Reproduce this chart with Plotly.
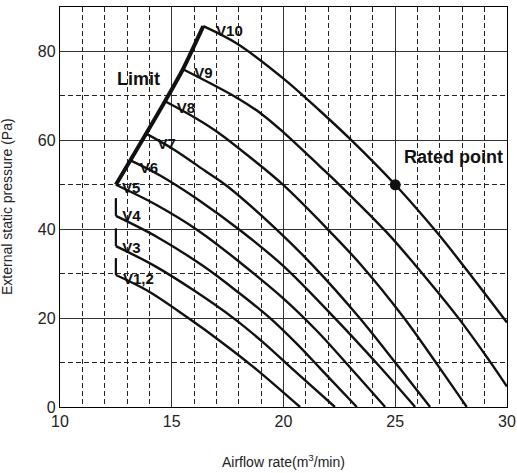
import plotly.graph_objects as go

# ---- data ----
v12_x = [12.5, 13.9, 15.74, 17.2, 18.73, 20.74]
v12_y = [29.7, 26.2, 20.0, 14.7, 8.7, 0.0]
v3_x = [12.5, 14.25, 16.0, 17.76, 19.1, 20.37, 22.3]
v3_y = [36.2, 31.7, 26.2, 20.0, 14.5, 8.7, 0.0]
v4_x = [12.5, 14.4, 16.41, 18.0, 19.4, 20.6, 21.64, 23.28]
v4_y = [43.0, 38.1, 31.7, 25.7, 20.0, 14.2, 8.7, 0.0]
v5_x = [12.5, 14.3, 16.27, 18.21, 20.0, 21.5, 22.98, 24.55]
v5_y = [50.0, 45.5, 39.4, 31.9, 24.4, 17.1, 8.9, 0.0]
v6_x = [13.15, 14.48, 16.2, 18.1, 20.0, 22.2, 24.32, 25.89]
v6_y = [55.5, 52.1, 46.6, 39.6, 31.7, 20.5, 9.0, 0.0]
v7_x = [13.85, 15.07, 16.5, 17.5, 19.8, 21.34, 23.36, 25.14, 26.56]
v7_y = [61.5, 58.0, 53.1, 49.6, 39.4, 31.7, 20.3, 9.1, 0.0]
v8_x = [14.7, 16.04, 17.01, 18.5, 20.0, 22.09, 23.5, 25.37, 26.93, 28.2]
v8_y = [68.8, 65.1, 62.0, 56.2, 49.9, 39.4, 31.8, 20.2, 9.2, 0.0]
v9_x = [15.5, 17.91, 19.0, 20.0, 21.64, 22.5, 24.6, 25.9, 27.83, 29.2, 30.0]
v9_y = [76.0, 69.6, 66.0, 61.8, 54.1, 50.0, 39.4, 31.9, 20.0, 10.5, 4.6]
v10_x = [16.41, 17.91, 20.0, 21.64, 23.0, 25.0, 26.86, 28.05, 30.0]
v10_y = [85.7, 81.8, 73.9, 66.6, 60.2, 50.0, 39.3, 31.8, 19.0]

limit_x = [12.5, 13.15, 13.85, 14.7, 15.5, 16.41]
limit_y = [50.0, 55.5, 61.5, 68.8, 76.0, 85.7]

# small "L" brackets at the low-speed curves
bracket_x = [12.5, 12.5]
bracket_tops = [47.0, 40.2, 33.5]
bracket_bottoms = [43.0, 36.2, 29.7]

rated_x = [25.0]
rated_y = [50.0]

label_text = ["V10", "V9", "V8", "V7", "V6", "V5", "V4", "V3", "V1,2"]
label_x = [17.58, 16.42, 15.64, 14.77, 13.98, 13.18, 13.2, 13.2, 13.51]
label_y = [84.3, 74.8, 66.9, 59.0, 53.4, 48.9, 42.6, 35.6, 28.6]

x_ticks = [10, 15, 20, 25, 30]
y_ticks = [0, 20, 40, 60, 80]

FONT = "Liberation Sans, Arial, sans-serif"
INK = "#111111"

fig = go.Figure()

curves = [(v12_x, v12_y), (v3_x, v3_y), (v4_x, v4_y), (v5_x, v5_y), (v6_x, v6_y),
          (v7_x, v7_y), (v8_x, v8_y), (v9_x, v9_y), (v10_x, v10_y)]
for cx, cy in curves:
    fig.add_trace(go.Scatter(x=cx, y=cy, mode="lines",
                             line=dict(color=INK, width=2.4, shape="spline", smoothing=1.0),
                             hoverinfo="skip"))

for top, bot in zip(bracket_tops, bracket_bottoms):
    fig.add_trace(go.Scatter(x=bracket_x, y=[top, bot], mode="lines",
                             line=dict(color=INK, width=2.2), hoverinfo="skip"))

fig.add_trace(go.Scatter(x=limit_x, y=limit_y, mode="lines",
                         line=dict(color=INK, width=4, shape="spline", smoothing=0.8),
                         hoverinfo="skip"))

fig.add_trace(go.Scatter(x=rated_x, y=rated_y, mode="markers",
                         marker=dict(color=INK, size=11), hoverinfo="skip"))

fig.add_trace(go.Scatter(x=label_x, y=label_y, mode="text", text=label_text,
                         textposition="middle center",
                         textfont=dict(family=FONT, size=15, color=INK, weight="bold"),
                         hoverinfo="skip"))

fig.add_annotation(x=13.5, y=73.7, text="Limit", showarrow=False,
                   font=dict(family=FONT, size=18, color=INK, weight="bold"))
fig.add_annotation(x=27.61, y=56.2, text="Rated point", showarrow=False,
                   font=dict(family=FONT, size=18, color=INK, weight="bold"))

# axis titles
fig.add_annotation(x=0.5, y=0, xref="paper", yref="paper", yshift=-54,
                   xanchor="center", yanchor="middle",
                   text="Airflow rate(m<sup>3</sup>/min)", showarrow=False,
                   font=dict(family=FONT, size=14, color="#222"))
fig.add_annotation(x=0, y=0.5, xref="paper", yref="paper", xshift=-53, textangle=-90,
                   xanchor="center", yanchor="middle",
                   text="External static pressure (Pa)", showarrow=False,
                   font=dict(family=FONT, size=14, color="#222"))

fig.update_xaxes(range=[10, 30], tickvals=x_ticks, ticks="", showgrid=True,
                 gridcolor="#333", gridwidth=1, showline=True, linecolor="black",
                 linewidth=1.3, mirror=True, zeroline=False, automargin=False,
                 tickfont=dict(family=FONT, size=16, color="#222"),
                 minor=dict(dtick=1, showgrid=True, gridcolor="#222", gridwidth=1,
                            griddash="5px,3px"))
fig.update_yaxes(range=[0, 90], tickvals=y_ticks, ticks="", showgrid=True,
                 gridcolor="#333", gridwidth=1, showline=True, linecolor="black",
                 linewidth=1.3, mirror=True, zeroline=False, automargin=False,
                 tickfont=dict(family=FONT, size=16, color="#222"),
                 minor=dict(dtick=10, showgrid=True, gridcolor="#222", gridwidth=1,
                            griddash="5px,3px"))

fig.update_layout(width=517, height=473, margin=dict(l=60, r=10, t=7, b=66),
                  plot_bgcolor="white", paper_bgcolor="white", showlegend=False)

fig.write_html("out.html", config={"displayModeBar": False},
               post_script="document.body.style.margin='0';")
